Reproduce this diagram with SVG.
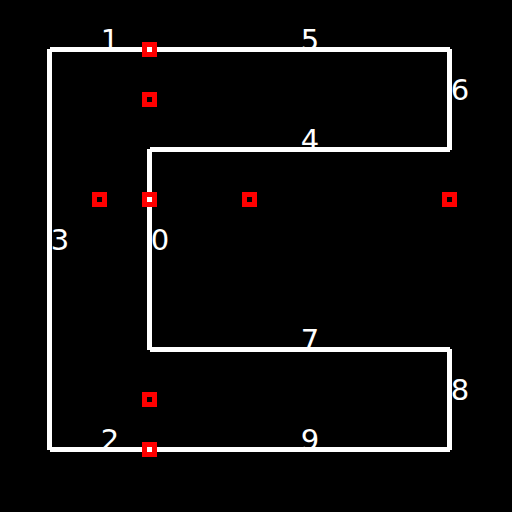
<svg xmlns="http://www.w3.org/2000/svg" width="512" height="512" viewBox="0 0 512 512">
<style>
.e{stroke:#fff;stroke-width:5;fill:none;stroke-linecap:butt}
.l{fill:#fff;font-family:"DejaVu Sans",sans-serif;font-size:29px;text-anchor:middle}
.p{fill:none;stroke:#f00;stroke-width:5}
</style>
<rect width="512" height="512" fill="#000"/>
<g id="connectors">
<line id="e0" class="e" x1="149.5" y1="149" x2="149.5" y2="350"/>
<line id="e1" class="e" x1="50" y1="49.5" x2="150" y2="49.5"/>
<line id="e2" class="e" x1="50" y1="449.5" x2="150" y2="449.5"/>
<line id="e3" class="e" x1="49.5" y1="49" x2="49.5" y2="450"/>
<line id="e4" class="e" x1="150" y1="149.5" x2="450" y2="149.5"/>
<line id="e5" class="e" x1="150" y1="49.5" x2="450" y2="49.5"/>
<line id="e6" class="e" x1="449.5" y1="49" x2="449.5" y2="150"/>
<line id="e7" class="e" x1="150" y1="349.5" x2="450" y2="349.5"/>
<line id="e8" class="e" x1="449.5" y1="349" x2="449.5" y2="450"/>
<line id="e9" class="e" x1="150" y1="449.5" x2="450" y2="449.5"/>
</g>
<g id="labels">
<text class="l" x="160" y="250">0</text>
<text class="l" x="110" y="50">1</text>
<text class="l" x="110" y="450">2</text>
<text class="l" x="60" y="250">3</text>
<text class="l" x="310" y="150">4</text>
<text class="l" x="310" y="50">5</text>
<text class="l" x="460" y="100">6</text>
<text class="l" x="310" y="350">7</text>
<text class="l" x="460" y="400">8</text>
<text class="l" x="310" y="450">9</text>
</g>
<g id="points">
<rect id="p1" class="p" x="144.5" y="44.5" width="10" height="10"/>
<rect id="p2" class="p" x="144.5" y="94.5" width="10" height="10"/>
<rect id="p3" class="p" x="94.5" y="194.5" width="10" height="10"/>
<rect id="p4" class="p" x="144.5" y="194.5" width="10" height="10"/>
<rect id="p5" class="p" x="244.5" y="194.5" width="10" height="10"/>
<rect id="p6" class="p" x="444.5" y="194.5" width="10" height="10"/>
<rect id="p7" class="p" x="144.5" y="394.5" width="10" height="10"/>
<rect id="p8" class="p" x="144.5" y="444.5" width="10" height="10"/>
</g>
</svg>
